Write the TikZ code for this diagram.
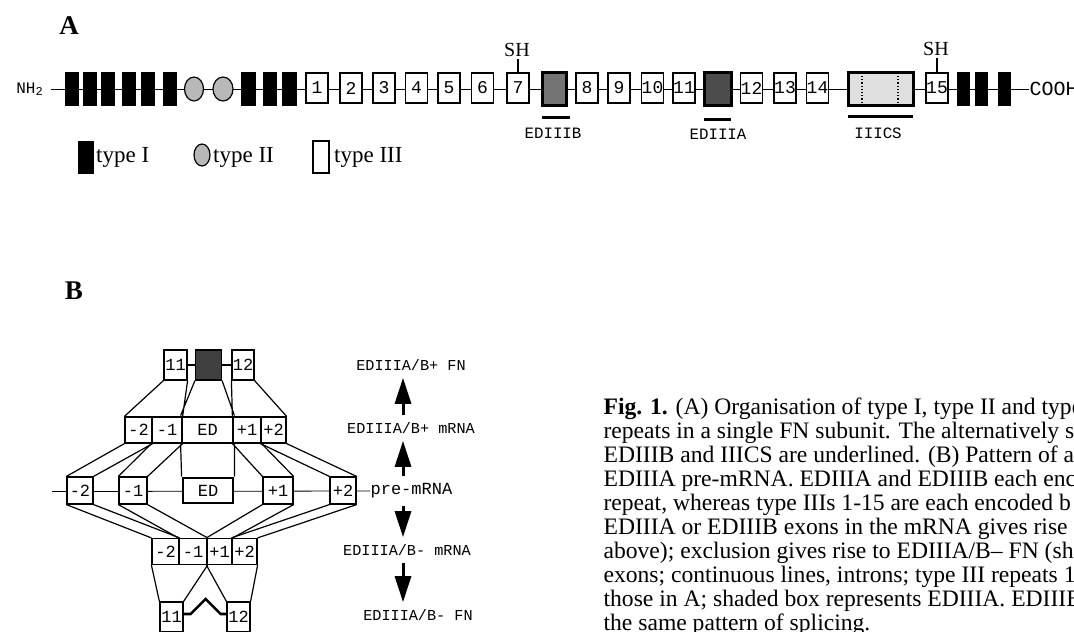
\documentclass[tikz,border=0pt]{standalone}
\usepackage{fontspec}
\setmainfont{Liberation Serif}
\setmonofont{Liberation Mono}
\usepackage{tikz}
\usetikzlibrary{arrows.meta,positioning,backgrounds,calc,shapes.geometric}

\begin{document}
\begin{tikzpicture}[x=0.5pt, y=-0.5pt, line width=0.6pt,
  tI/.style={draw, fill=black, minimum width=6.5pt, minimum height=16pt, inner sep=0pt},
  tII/.style={draw, ellipse, fill=black!28, minimum width=9.5pt, minimum height=12pt, inner sep=0pt},
  tIII/.style={draw, fill=white, minimum width=11pt, minimum height=15pt, inner sep=0pt, font=\fontsize{9}{9}\ttfamily},
  alt/.style={draw, line width=1.5pt, minimum height=16pt, inner sep=0pt},
  tag/.style={font=\fontsize{7.9}{8}\ttfamily, inner sep=1pt},
  sh/.style={font=\fontsize{10}{10}\selectfont, inner sep=1pt},
  key/.style={font=\fontsize{11.5}{12}\selectfont, inner sep=0pt},
  panel/.style={font=\fontsize{13.5}{14}\selectfont\bfseries},
  bx/.style={draw, fill=white, inner sep=0pt, font=\fontsize{8.5}{9}\ttfamily},
  ed/.style={bx, line width=1.4pt},
  trn/.style={font=\fontsize{7.6}{8}\ttfamily},
  bigarr/.style={-{Triangle[width=8pt,length=13pt]}, line width=1.5pt},
]
\useasboundingbox (0,0) rectangle (1074,631);

% panel A: one FN subunit
\node[panel] (lA) at (69,26) {A};
\node[font=\fontsize{8}{8}\ttfamily] (nh) at (30,89) {NH\textsubscript{2}};
\node[font=\fontsize{10}{10}\ttfamily, anchor=west, inner sep=0pt] (cooh) at (1029,89) {COOH};
\foreach \n/\x in {1/72,2/90,3/108,4/129,5/148,6/170,7/248.5,8/270,9/289.5}
  \node[tI] (I\n) at (\x,89) {};
\foreach \n/\x in {10/963.8,11/981.7,12/1004.5}
  \node[tI, minimum width=5.75pt] (I\n) at (\x,89) {};
\node[tII] (II1) at (194,89) {};
\node[tII, minimum width=10pt] (II2) at (223,89) {};
\foreach \n/\x in {1/317,2/351,3/384,4/416.5,5/449,6/482.5,7/518,8/587,9/619,10/652.5,11/684,12/751.5,13/785,14/817.5,15/937}
  \node[tIII] (r\n) at (\x,88) {\n};
\node[alt, fill=black!55, minimum width=12pt] (edb) at (554,89) {};
\node[alt, fill=black!70, minimum width=13.5pt] (eda) at (717.5,89) {};
\node[alt, fill=black!12, minimum width=32.5pt] (cs) at (880.5,89) {};
\draw[densely dotted] (862,76) -- (862,102) (898,76) -- (898,102);
\begin{scope}[on background layer]
\draw (nh.east) -- (cooh.west);
\end{scope}
\node[sh] (sh1) at (517,50) {SH};
\node[sh] (sh2) at (936,49) {SH};
\draw (r7.north) -- (r7.north |- sh1.south);
\draw (r15.north) -- (r15.north |- sh2.south);
\draw[line width=1.5pt] (542,117) -- (570,117) (704,119) -- (731,119) (848,116) -- (913,116);
\node[tag] (tb) at (553,133) {EDIIIB};
\node[tag] (ta) at (718,134) {EDIIIA};
\node[tag] (tc) at (878,133) {IIICS};

% key
\node[tI, minimum width=7pt, minimum height=15.5pt] (kI) at (86,157.5) {};
\node[key, right=1pt of kI] (lI) {type I};
\node[tII, minimum width=8pt, minimum height=11pt] (kII) at (202,155) {};
\node[key, right=1pt of kII, yshift=-1pt] (lII) {type II};
\node[draw, minimum width=8pt, minimum height=16pt, inner sep=0pt] (kIII) at (321,157) {};
\node[key, right=2pt of kIII] (lIII) {type III};

% panel B: splicing of EDIIIA
\node[panel] (lB) at (74,291) {B};
\node[bx, minimum width=11.5pt, minimum height=15pt] (b11) at (175.5,365) {11};
\node[bx, fill=black!75, minimum width=13pt, minimum height=15pt] (bed) at (208.5,365) {};
\node[bx, minimum width=11pt, minimum height=15pt] (b12) at (243,365) {12};
\draw (b11) -- (bed) (bed) -- (b12);

\node[bx, minimum width=13.5pt, minimum height=13pt] (m2n) at (138.5,430) {-2};
\node[bx, minimum width=15pt, minimum height=13pt] (m1n) at (167,430) {-1};
\node[ed, minimum width=25.5pt, minimum height=13pt] (med) at (207.5,430) {ED};
\node[bx, minimum width=14pt, minimum height=13pt] (m1p) at (247,430) {+1};
\node[bx, minimum width=12.5pt, minimum height=13pt] (m2p) at (273.5,430) {+2};

\coordinate (bst) at (52,491.5);
\node[bx, minimum width=13pt, minimum height=13.5pt] (p2n) at (80,490.5) {-2};
\node[bx, minimum width=14pt, minimum height=13.5pt] (p1n) at (133,490.5) {-1};
\node[ed, minimum width=25pt, minimum height=12.5pt] (ped) at (208,490.5) {ED};
\node[bx, minimum width=15pt, minimum height=13.5pt] (p1p) at (278,490.5) {+1};
\node[bx, minimum width=13pt, minimum height=13.5pt] (p2p) at (343,490.5) {+2};

\node[bx, minimum width=13.5pt, minimum height=13pt] (s2n) at (165.5,551.5) {-2};
\node[bx, minimum width=14pt, minimum height=13pt] (s1n) at (193,551.5) {-1};
\node[bx, minimum width=12.5pt, minimum height=13pt] (s1p) at (219.5,551.5) {+1};
\node[bx, minimum width=12.5pt, minimum height=13pt] (s2p) at (244.5,551.5) {+2};

\node[bx, minimum width=11.5pt, minimum height=15pt] (c11) at (171.5,617) {11};
\node[bx, minimum width=11.5pt, minimum height=15pt] (c12) at (238.5,617) {12};

\draw (b11.south west) -- (m2n.north west) (b11.south east) -- (m1n.north east)
      (bed.south west) -- (med.north west) (bed.south east) -- (med.north east)
      (b12.south west) -- (m1p.north west) (b12.south east) -- (m2p.north east);
\foreach \a/\b in {m2n/p2n, m1n/p1n, med/ped, m1p/p1p, m2p/p2p, p2n/s2n, p1n/s1n, p1p/s1p, p2p/s2p}
  \draw (\a.south west) -- (\b.north west) (\a.south east) -- (\b.north east);
\draw (s2n.south west) -- (c11.north west) (s1n.south east) -- (c11.north east)
      (s1p.south west) -- (c12.north west) (s2p.south east) -- (c12.north east);
\draw[line width=1.3pt] ($(c11.east)+(0,-3)$) -- ++(7,0) -- ++(15,-15) -- ++(15,15) -- ($(c12.west)+(0,-3)$);

% products
\coordinate (ax) at (403,0);
\node[trn] (fnp) at (411,365) {EDIIIA/B+ FN};
\node[trn] (mp) at (411,428) {EDIIIA/B+ mRNA};
\node[trn, font=\fontsize{8.5}{9}\ttfamily, anchor=west, inner xsep=0pt] (pre) at (370,491) {pre-mRNA};
\node[trn] (mm) at (407,550) {EDIIIA/B- mRNA};
\node[trn] (fnm) at (418,615) {EDIIIA/B- FN};
\begin{scope}[on background layer]
\draw (bst) -- (pre.west);
\end{scope}
\draw[bigarr] (mp.north -| ax) -- (fnp.south -| ax);
\draw[bigarr] (pre.north -| ax) -- (mp.south -| ax);
\draw[bigarr] (pre.south -| ax) -- (mm.north -| ax);
\draw[bigarr] (mm.south -| ax) -- (fnm.north -| ax);

% caption
\node[anchor=north west, align=left, inner sep=0pt, font=\fontsize{11.8}{12}\selectfont] (cap) at (603,397)
  {\textbf{Fig. 1.} (A) Organisation of type I, type II and type\\
   repeats in a single FN subunit. The alternatively s\\
   EDIIIB and IIICS are underlined. (B) Pattern of a\\
   EDIIIA pre-mRNA. EDIIIA and EDIIIB each enc\\
   repeat, whereas type IIIs 1-15 are each encoded b\\
   EDIIIA or EDIIIB exons in the mRNA gives rise\\
   above); exclusion gives rise to EDIIIA/B-- FN (sh\\
   exons; continuous lines, introns; type III repeats 1\\
   those in A; shaded box represents EDIIIA. EDIIIB\\
   the same pattern of splicing.};
\end{tikzpicture}
\end{document}
